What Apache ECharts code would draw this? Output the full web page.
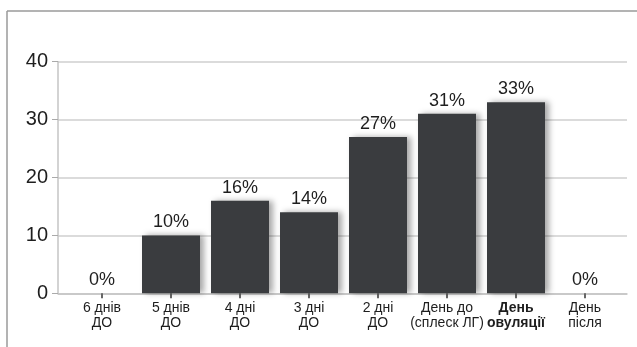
<!DOCTYPE html>
<html>
<head>
<meta charset="utf-8">
<script src="https://cdn.jsdelivr.net/npm/echarts@6/dist/echarts.min.js"></script>
<style>
  html, body { margin: 0; padding: 0; background: #fff; }
  #chart { width: 637px; height: 347px; }
</style>
</head>
<body>
<div id="chart"></div>
<script>
// Days relative to ovulation and the share of conceptions for each day
const categories = ['6 днів\nДО', '5 днів\nДО', '4 дні\nДО', '3 дні\nДО', '2 дні\nДО', 'День до\n(сплеск ЛГ)', 'День\nовуляції', 'День\nпісля'];
const values = [0, 10, 16, 14, 27, 31, 33, 0];
const yTicks = [0, 10, 20, 30, 40];

const FONT = 'Liberation Sans, Arial, Helvetica, sans-serif';
const chart = echarts.init(document.getElementById('chart'), null, { renderer: 'canvas' });

chart.setOption({
  animation: false,
  textStyle: { fontFamily: FONT },
  graphic: [
    // thin frame along the top and left edges
    { type: 'line', shape: { x1: 7, y1: 11, x2: 637, y2: 11 }, style: { stroke: '#9a9a9a', lineWidth: 1.5 } },
    { type: 'line', shape: { x1: 7, y1: 11, x2: 7, y2: 347 }, style: { stroke: '#9a9a9a', lineWidth: 1.5 } }
  ],
  grid: [
    // wide grid: value scale, gridlines and baseline
    { left: 58, right: 10, top: 61.7, bottom: 53.7 },
    // narrower grid holding the bars and category labels
    { left: 67.5, right: 17.5, top: 61.7, bottom: 53.7 }
  ],
  xAxis: [
    {
      type: 'category', gridIndex: 0, data: categories,
      axisLine: { show: true, lineStyle: { color: '#c4c4c4', width: 1.5 } },
      axisTick: { show: false }, axisLabel: { show: false }
    },
    {
      type: 'category', gridIndex: 1, data: categories,
      axisLine: { show: false },
      axisTick: { show: true, alignWithLabel: true, length: 5, lineStyle: { color: '#666', width: 2 } },
      axisLabel: {
        color: '#1e1e1e', fontSize: 14, lineHeight: 14.5, margin: 8, interval: 0,
        formatter: function (v, i) { return i === 6 ? '{b|' + v.replace('\n', '}\n{b|') + '}' : v; },
        rich: { b: { fontWeight: 'bold', fontSize: 14, lineHeight: 14.5, color: '#1e1e1e' } }
      }
    }
  ],
  yAxis: [
    {
      type: 'value', gridIndex: 0, min: yTicks[0], max: yTicks[yTicks.length - 1], interval: 10,
      axisLine: { show: true, lineStyle: { color: '#c4c4c4', width: 1.5 } },
      axisTick: { show: true, length: 6, lineStyle: { color: '#aaa' } },
      axisLabel: { color: '#1e1e1e', fontSize: 20, margin: 10 },
      splitLine: { show: true, lineStyle: { color: '#cfcfcf', width: 1.5 } }
    },
    {
      type: 'value', gridIndex: 1, min: yTicks[0], max: yTicks[yTicks.length - 1], interval: 10,
      show: false, splitLine: { show: false }
    }
  ],
  series: [{
    type: 'bar', xAxisIndex: 1, yAxisIndex: 1,
    data: values, barWidth: 58,
    itemStyle: {
      color: '#3a3c3f',
      shadowColor: 'rgba(0,0,0,0.35)', shadowBlur: 6, shadowOffsetX: 4, shadowOffsetY: 0
    },
    label: {
      show: true, position: 'top', distance: 4,
      color: '#1e1e1e', fontSize: 18,
      formatter: function (p) { return p.value + '%'; }
    }
  }]
});
</script>
</body>
</html>
